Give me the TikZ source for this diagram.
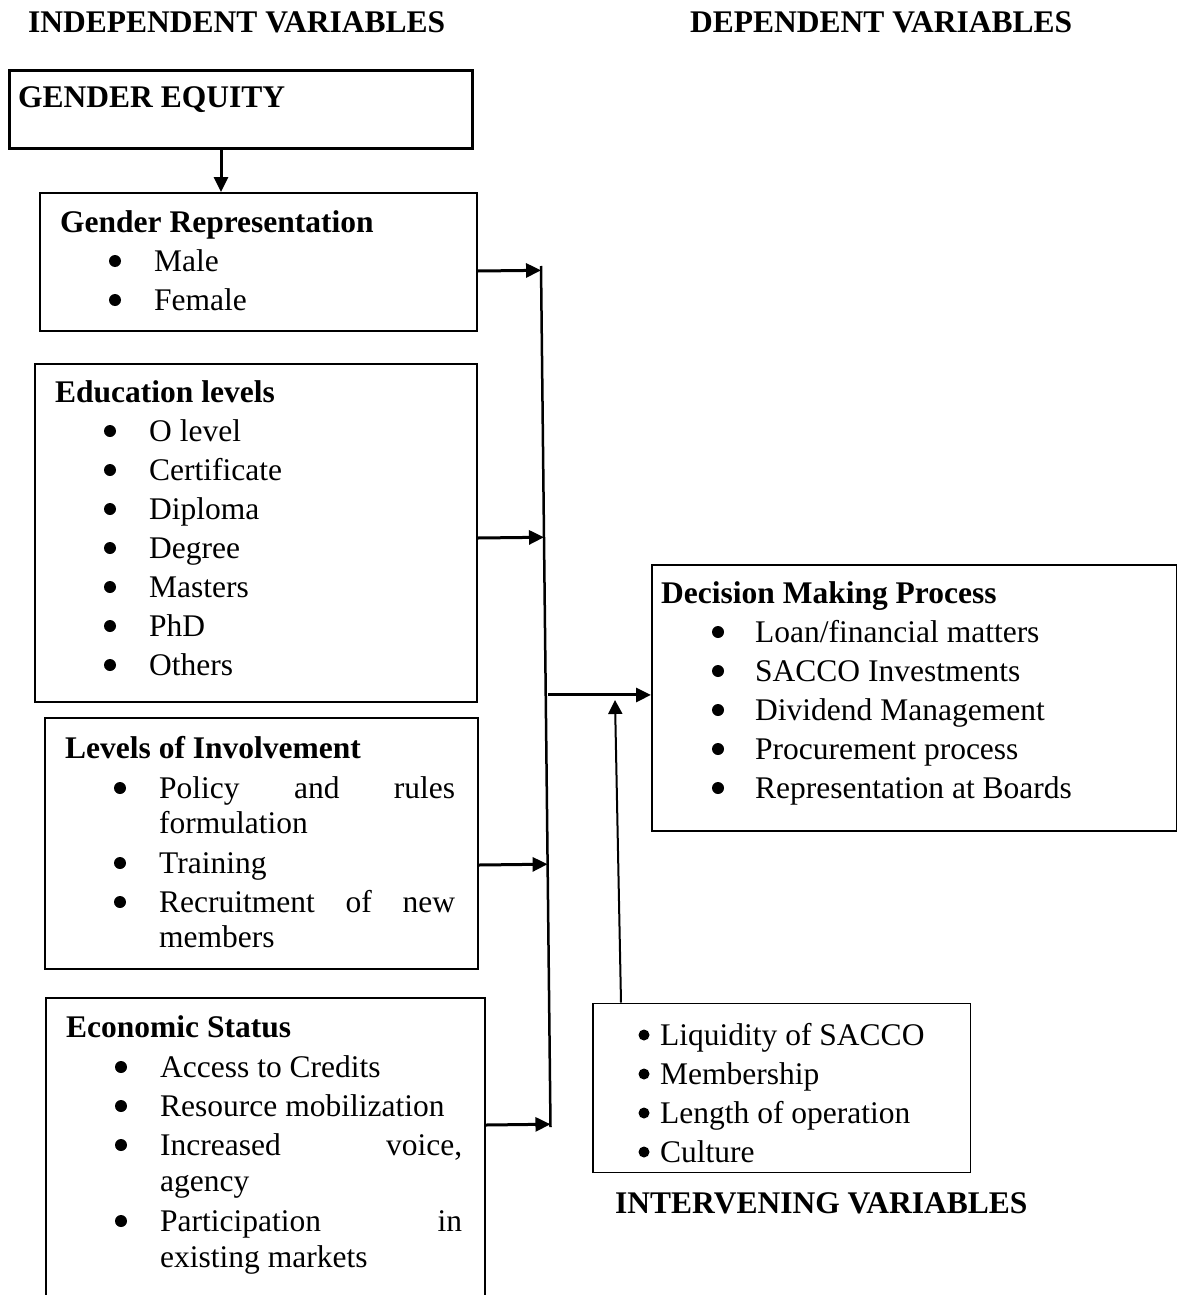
\documentclass[tikz,border=0pt]{standalone}
\usepackage{fontspec}
\setmainfont{Liberation Serif}
\usetikzlibrary{arrows.meta,calc}

\newcommand{\itm}[1]{\hspace*{94pt}#1}
\newcommand{\fst}{\rule{0pt}{22pt}}

\begin{document}
\begin{tikzpicture}[x=1pt,y=-1pt,
    every node/.style={font=\fontsize{31.5}{39}\selectfont},
    box/.style={draw, line width=2pt, rectangle, anchor=north west, inner sep=0pt},
    txt/.style={anchor=north west, inner sep=0pt, align=left},
    hdr/.style={anchor=base west, inner sep=0pt, font=\fontsize{31.5}{39}\selectfont\bfseries},
    arr/.style={line width=3pt, -{Triangle[length=15pt,width=14pt]}}]
\useasboundingbox (0,0) rectangle (1176,1295);

\node[hdr] (h-ind) at (28,33) {INDEPENDENT VARIABLES};
\node[hdr] (h-dep) at (690,33) {DEPENDENT VARIABLES};

% independent side
\node[box, line width=3pt, minimum width=463pt, minimum height=78pt] (ge) at (8,69) {};
\node[hdr] (ge-t) at (18,108) {GENDER EQUITY};

\node[box, minimum width=437.5pt, minimum height=138pt] (gr) at (38.5,192) {};
\node[txt] (gr-t) at (60,210) {\fst\textbf{Gender Representation}\\
  \itm{Male}\\ \itm{Female}};

\node[box, minimum width=442.5pt, minimum height=337.5pt] (el) at (33.5,363) {};
\node[txt] (el-t) at (55,380) {\fst\textbf{Education levels}\\
  \itm{O level}\\ \itm{Certificate}\\ \itm{Diploma}\\ \itm{Degree}\\
  \itm{Masters}\\ \itm{PhD}\\ \itm{Others}};

\node[box, minimum width=433.5pt, minimum height=251pt] (li) at (43.5,717) {};
\node[txt] (li-t) at (65,736) {\fst\textbf{Levels of Involvement}\\[1pt]
  \itm{\hbox to 296pt{Policy\hfill and\hfill rules}}\\[-4pt]
  \itm{formulation}\\[1pt]
  \itm{Training}\\
  \itm{\hbox to 296pt{Recruitment\hfill of\hfill new}}\\[-4pt]
  \itm{members}};

\node[box, minimum width=439pt, minimum height=303pt] (es) at (45,997) {};
\node[txt] (es-t) at (66,1015) {\fst\textbf{Economic Status}\\[1pt]
  \itm{Access to Credits}\\ \itm{Resource mobilization}\\
  \itm{\hbox to 302pt{Increased\hfill voice,}}\\[-3pt]
  \itm{agency}\\[1pt]
  \itm{\hbox to 302pt{Participation\hfill in}}\\[-3pt]
  \itm{existing markets}};

% dependent side
\node[box, minimum width=524.5pt, minimum height=266.5pt] (dm) at (651,563.5) {};
\node[txt] (dm-t) at (661,581) {\fst\textbf{Decision Making Process}\\
  \itm{Loan/financial matters}\\ \itm{SACCO Investments}\\
  \itm{Dividend Management}\\ \itm{Procurement process}\\
  \itm{Representation at Boards}};

% intervening
\node[box, line width=1.5pt, minimum width=377.5pt, minimum height=169pt] (iv) at (592,1002.5) {};
\node[txt] (iv-t) at (660,1023) {\fst Liquidity of SACCO\\
  Membership\\ Length of operation\\ Culture};
\node[hdr] (h-int) at (615,1213) {INTERVENING VARIABLES};

% bullets
\foreach \y in {261,300} \fill (115,\y) circle (6pt);
\foreach \y in {431,470,...,665} \fill (110,\y) circle (6pt);
\foreach \y in {788,863,902} \fill (120,\y) circle (6pt);
\foreach \y in {1067,1106,1145,1221} \fill (121,\y) circle (6pt);
\foreach \y in {632,671,...,788} \fill (718,\y) circle (6pt);
\foreach \y in {1035,1074,...,1152} \fill (644,\y) circle (5.5pt);

% connectors
\coordinate (bt) at (541,266);
\coordinate (bb) at (550.5,1127);
\coordinate (j5) at ($(bt)!(0,701)!(bb)$);
\coordinate (ivtip) at (615,700);

\draw[arr] (ge.south -| 221,0) -- (gr.north -| 221,0);
\draw[line width=2.5pt] (bt) -- (bb);
\draw[arr] (gr.east |- 0,271) -- ($(bt)!(gr.east |- 0,271)!(bb)$);
\draw[arr] (el.east |- 0,538) -- ($(bt)!(el.east |- 0,538)!(bb)$);
\draw[arr] (li.east |- 0,865) -- ($(bt)!(li.east |- 0,865)!(bb)$);
\draw[arr] (es.east |- 0,1125) -- ($(bt)!(es.east |- 0,1125)!(bb)$);
\draw[arr] ([xshift=2.5pt]j5) -- (dm.west |- j5);
\draw[line width=2pt, -{Triangle[length=14pt,width=14pt]}] (iv.north -| 621,0) -- (ivtip);
\end{tikzpicture}
\end{document}
